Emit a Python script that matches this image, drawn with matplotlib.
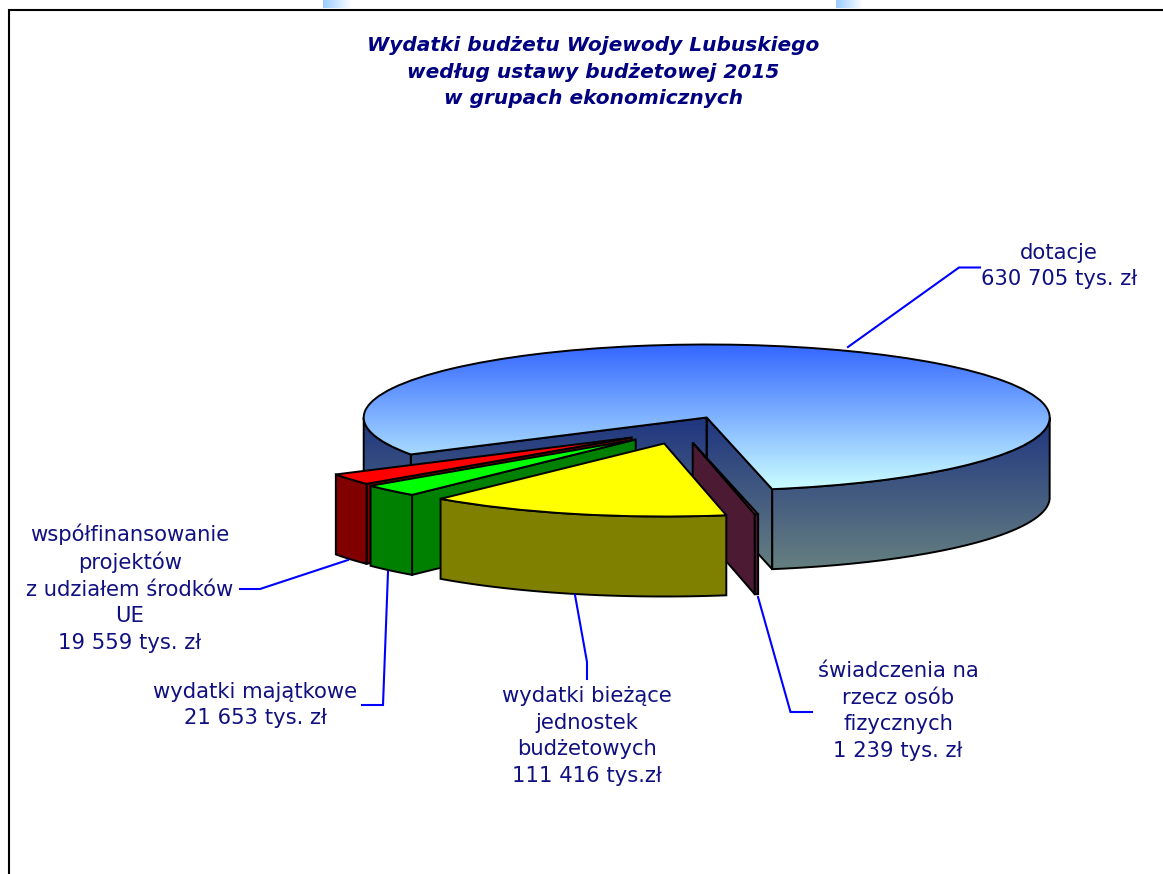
import numpy as np
import matplotlib
matplotlib.use('Agg')
import matplotlib.pyplot as plt
from matplotlib.colors import LinearSegmentedColormap
from matplotlib.path import Path
from matplotlib.patches import PathPatch

# values in tys. zl, same order as the pie runs counter clockwise
names = ['dotacje', 'wspolfinansowanie', 'majatkowe', 'biezace', 'swiadczenia']
values = [630705, 19559, 21653, 111416, 1239]

label_texts = ['dotacje\n630 705 tys. zł',
               'współfinansowanie\nprojektów\nz udziałem środków\nUE\n19 559 tys. zł',
               'wydatki majątkowe\n21 653 tys. zł',
               'wydatki bieżące\njednostek\nbudżetowych\n111 416 tys.zł',
               'świadczenia na\nrzecz osób\nfizycznych\n1 239 tys. zł']
title_text = 'Wydatki budżetu Wojewody Lubuskiego\nwedług ustawy budżetowej 2015\nw grupach ekonomicznych'

# layout, all in pixels of the 1163x874 picture
W, H = 1163, 874
cx, cy = 706.7, 417.5
rx, ry = 343.0, 73.0
depth_px = 80.0
start_angle = -79
# where each slice tip sits relative to the pie centre
shift_px = [(0, 0), (-75, 20), (-71, 22), (-42.5, 26), (-14, 25)]
top_colors = [None, '#FF0000', '#00FF00', '#FFFF00', '#993366']
side_colors = [None, '#800000', '#008000', '#808000', '#4D1A33']
# back to front
draw_order = [0, 1, 2, 4, 3]
label_pos = [(1059, 266), (130, 588), (255, 705), (587, 736), (898, 711)]
leaders = [[(848, 347), (959, 267.5), (980, 267.5)],
           [(240, 589), (260, 589), (348, 560)],
           [(362, 705), (383, 705), (388, 572)],
           [(587, 679), (587, 662), (575, 595)],
           [(812, 712), (790.5, 712), (758, 597)]]

plt.rcParams['font.family'] = ['DejaVu Sans']

fig = plt.figure(figsize=(W / 100, H / 100), dpi=100, facecolor='white')
ax = fig.add_axes([0, 0, 1, 1])
wedges, _ = ax.pie(values, startangle=start_angle, radius=1, center=(0, 0), normalize=True)
depth = depth_px / ry


def arc(theta1, theta2, x0, y0, drop=0.0):
    t = np.radians(np.linspace(theta1, theta2, 80))
    return np.column_stack([x0 + np.cos(t), y0 + np.sin(t) - drop])


def side_faces(theta1, theta2, x0, y0):
    # visible side polygons of one slice
    faces = []
    for theta, normal in [(theta1, theta1 - 90), (theta2, theta2 + 90)]:
        if np.sin(np.radians(normal)) < 0:
            px = x0 + np.cos(np.radians(theta))
            py = y0 + np.sin(np.radians(theta))
            faces.append(np.array([(x0, y0), (px, py), (px, py - depth), (x0, y0 - depth)]))
    for lo, hi in [(-180, 0), (180, 360)]:
        a, b = max(theta1, lo), min(theta2, hi)
        if a < b:
            faces.append(np.vstack([arc(a, b, x0, y0), arc(b, a, x0, y0, depth)]))
    return faces


top_cmap = LinearSegmentedColormap.from_list('top', ['#3366FF', '#CCFFFF'])
side_cmap = LinearSegmentedColormap.from_list('side', ['#1F3580', '#668080'])
ramp = np.linspace(0, 1, 256).reshape(-1, 1)

z = 2
for i in draw_order:
    w = wedges[i]
    x0 = shift_px[i][0] / rx
    y0 = -shift_px[i][1] / ry
    w.set_center((x0, y0))
    faces = side_faces(w.theta1, w.theta2, x0, y0)
    if i == 0:
        paths = [Path(np.vstack([f, f[:1]])) for f in faces]
        # the gradient runs over the whole height of the side, lowest rim included
        im = ax.imshow(ramp, cmap=side_cmap, extent=(-1, 1, -1 - depth, 0), aspect='auto',
                       zorder=z, interpolation='bilinear')
        im.set_clip_path(Path.make_compound_path(*paths), ax.transData)
        for p in paths:
            ax.add_patch(PathPatch(p, fc='none', ec='black', lw=1.4, zorder=z + 0.1))
        z += 1
        im = ax.imshow(ramp, cmap=top_cmap, extent=(-1, 1, -1, 1), aspect='auto',
                       zorder=z, interpolation='bilinear')
        im.set_clip_path(w)
        w.set(facecolor='none', edgecolor='black', linewidth=1.4, zorder=z + 0.1)
    else:
        for f in faces:
            ax.fill(f[:, 0], f[:, 1], fc=side_colors[i], ec='black', lw=1.4, zorder=z)
        z += 1
        w.set(facecolor=top_colors[i], edgecolor='black', linewidth=1.4, zorder=z)
    z += 1

ax.set_aspect('auto')
ax.set_xlim(-cx / rx, (W - cx) / rx)
ax.set_ylim((cy - H) / ry, cy / ry)
ax.set_axis_off()

# overlay in pixel coordinates for the frame and the texts
ov = fig.add_axes([0, 0, 1, 1])
ov.set_axis_off()

strip = LinearSegmentedColormap.from_list('strip', ['#99CCFF', '#FFFFFF'])
for left, right in [(323, 352), (836, 863)]:
    ov.imshow(np.linspace(0, 1, 64).reshape(1, -1), cmap=strip, aspect='auto',
              extent=(left, right, 8, 0), interpolation='bilinear')
ov.set_xlim(0, W)
ov.set_ylim(H, 0)

ov.plot([9, W], [8.5, 8.5], color='#999999', lw=0.7, solid_capstyle='butt')
ov.plot([9, 9, W], [H, 10, 10], color='black', lw=1.5, solid_joinstyle='miter')

ov.text(593.5, 72, title_text, ha='center', va='center', color='#000080', fontsize=14.5,
        fontweight='bold', fontstyle='italic', linespacing=1.52)

for txt, (lx, ly), pts in zip(label_texts, label_pos, leaders):
    ov.text(lx, ly, txt, ha='center', va='center', color='#101080', fontsize=15.2, linespacing=1.4)
    xs, ys = zip(*pts)
    ov.plot(xs, ys, color='#0000FF', lw=1.5, solid_joinstyle='miter')

fig.savefig('out.png', dpi=100)
